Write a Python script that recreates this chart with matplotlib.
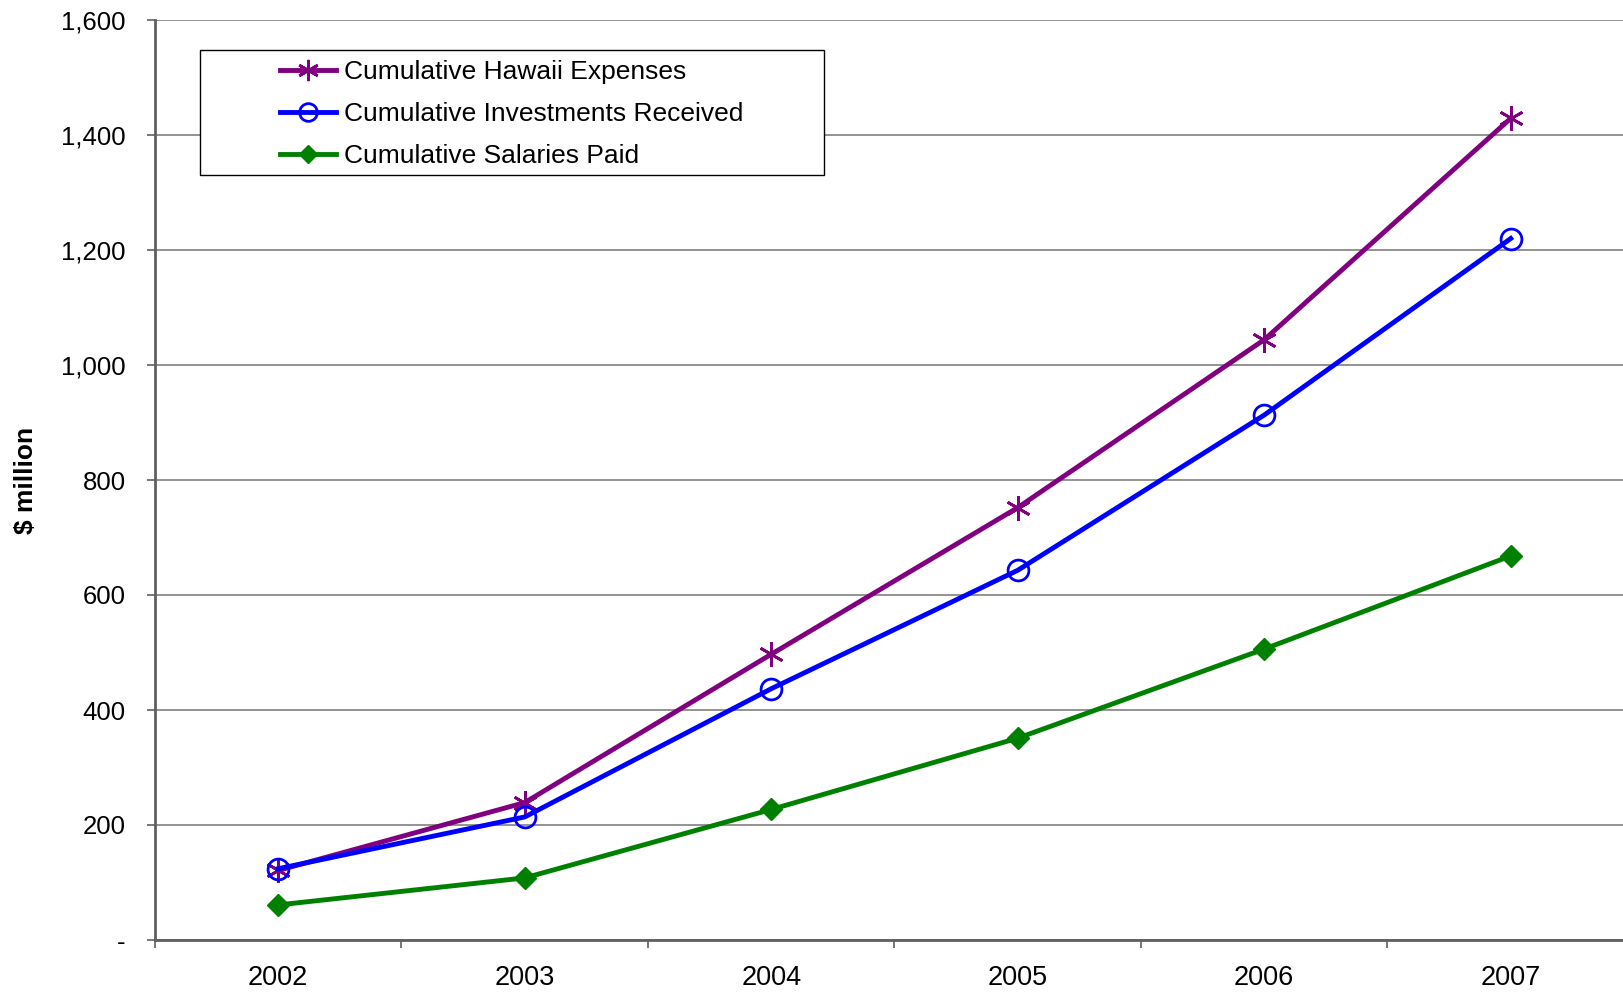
import matplotlib
matplotlib.use("Agg")
import matplotlib.pyplot as plt
from matplotlib.ticker import FuncFormatter, FixedLocator
from matplotlib.patches import Rectangle
import numpy as np

plt.rcParams['font.family'] = ['Liberation Sans', 'DejaVu Sans']

years = ['2002', '2003', '2004', '2005', '2006', '2007']
hawaii_expenses = [121, 239, 497, 752, 1044, 1429]
investments = [124, 214, 437, 643, 913, 1220]
salaries = [61, 108, 227, 351, 506, 668]

fig = plt.figure(figsize=(16.24, 9.92), dpi=100)
ax = fig.add_axes([155 / 1624, 1 - 940 / 992, 1 - 155 / 1624, (940 - 20) / 992])

x = np.arange(len(years))
ax.plot(x, hawaii_expenses, color='#800080', lw=3.5, marker=(6, 2, 0), ms=18,
        mew=2, label='Cumulative Hawaii Expenses', zorder=3)
ax.plot(x, investments, color='#0000FF', lw=3.5, marker='o', ms=15, mfc='none',
        mew=2, label='Cumulative Investments Received', zorder=3)
ax.plot(x, salaries, color='#008000', lw=3.5, marker='D', ms=11,
        label='Cumulative Salaries Paid', zorder=3)

ax.set_xlim(-0.5, (1624 - 155) / 246.5 - 0.5)
ax.set_ylim(0, 1600)
ax.set_yticks(np.arange(0, 1601, 200))
ax.yaxis.set_major_formatter(FuncFormatter(lambda v, p: '-' if v == 0 else f'{v:,.0f}'))
ax.set_xticks(x)
ax.set_xticklabels(years)
ax.xaxis.set_minor_locator(FixedLocator(np.arange(-0.5, 6, 1)))

ax.grid(axis='y', color='#808080', lw=1.2)
ax.set_axisbelow(True)
for s in ['top', 'right']:
    ax.spines[s].set_visible(False)
for s in ['left', 'bottom']:
    ax.spines[s].set_color('#606060')
    ax.spines[s].set_linewidth(2)

ax.tick_params(axis='y', length=6, width=1.2, color='#606060', pad=15, labelsize=18.5)
ax.tick_params(axis='x', which='major', length=0, pad=18, labelsize=19.5)
ax.tick_params(axis='x', which='minor', length=6, width=1.2, color='#606060')

ax.set_ylabel('$ million', fontsize=19, fontweight='bold')
ax.yaxis.set_label_coords(-117 / 1469, 0.5)

# legend box like the excel one
box = Rectangle((200 / 1624, 1 - 175 / 992), 624 / 1624, 125 / 992,
                transform=fig.transFigure, facecolor='white',
                edgecolor='black', lw=1, zorder=4, clip_on=False)
ax.add_patch(box)
leg = ax.legend(loc='upper left', bbox_to_anchor=(259 / 1624, 1 - 39 / 992),
                bbox_transform=fig.transFigure, frameon=False, fontsize=19,
                handlelength=2.1, handletextpad=0.33, labelspacing=0.68,
                borderpad=0.3, markerscale=0.85)
leg.set_zorder(5)

fig.savefig('out.png', dpi=100)
